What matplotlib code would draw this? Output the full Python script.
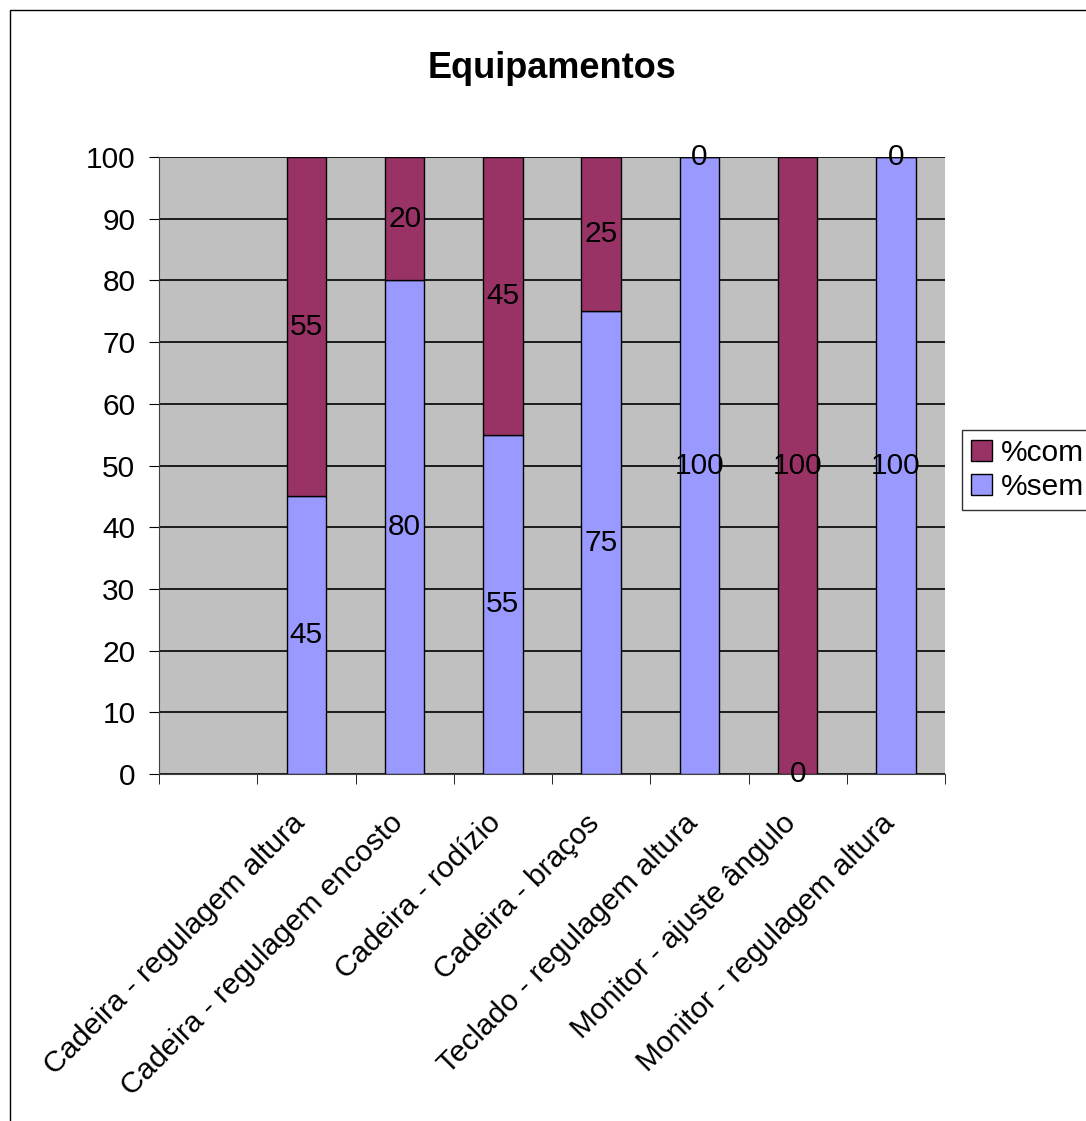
import matplotlib.pyplot as plt
import matplotlib.patches as mpatches
import matplotlib.transforms as mtransforms
import numpy as np

plt.rcParams['font.family'] = ['Liberation Sans', 'DejaVu Sans']

# dados
categorias = ["", "Cadeira - regulagem altura", "Cadeira - regulagem encosto",
              "Cadeira - rodízio", "Cadeira - braços", "Teclado - regulagem altura",
              "Monitor - ajuste ângulo", "Monitor - regulagem altura"]
pct_sem = [np.nan, 45, 80, 55, 75, 100, 0, 100]
pct_com = [np.nan, 55, 20, 45, 25, 0, 100, 0]

cor_sem = "#9999FF"
cor_com = "#993366"
fs = 21.5

fig = plt.figure(figsize=(10.86, 11.21), dpi=100)
ax = fig.add_axes([0.1464, 0.3095, 0.7238, 0.5504])
ax.set_facecolor("#C0C0C0")

x = np.arange(len(categorias))
sem = np.array(pct_sem, dtype=float)
com = np.array(pct_com, dtype=float)
ax.bar(x, sem, width=0.4, color=cor_sem, edgecolor="black", linewidth=1, zorder=3, label="%sem")
ax.bar(x, com, width=0.4, bottom=sem, color=cor_com, edgecolor="black", linewidth=1, zorder=3, label="%com")

# rótulos dos valores
for i in range(len(categorias)):
    if np.isnan(sem[i]):
        continue
    ax.text(x[i], sem[i] / 2, "%d" % sem[i], ha="center", va="center", fontsize=fs, zorder=4)
    ax.text(x[i], sem[i] + com[i] / 2, "%d" % com[i], ha="center", va="center", fontsize=fs, zorder=4)

ax.set_xlim(-0.5, len(categorias) - 0.5)
ax.set_ylim(0, 100)
ax.set_yticks(np.arange(0, 101, 10))
ax.yaxis.grid(True, color="black", linewidth=1.2, zorder=1)
ax.set_axisbelow(True)
ax.tick_params(axis="y", labelsize=fs, length=7, direction="out", pad=10)

ax.set_xticks(x)
ax.set_xticklabels(categorias, rotation=45, ha="right", va="top", rotation_mode="anchor", fontsize=fs)
ax.tick_params(axis="x", which="major", length=0, pad=25)
ax.set_xticks(np.arange(-0.5, len(categorias), 1), minor=True)
ax.tick_params(axis="x", which="minor", length=7, direction="out")
desloc = mtransforms.ScaledTranslation(-0.16, 0, fig.dpi_scale_trans)
for lbl in ax.get_xticklabels():
    lbl.set_transform(lbl.get_transform() + desloc)

for s in ["top", "right"]:
    ax.spines[s].set_visible(False)
ax.spines["left"].set_color("#404040")
ax.spines["bottom"].set_color("#404040")

fig.text(0.5 * (0.1464 + 0.8702), 1 - 68 / 1121, "Equipamentos", ha="center", va="center",
         fontsize=26, fontweight="bold")

h = [mpatches.Patch(facecolor=cor_com, edgecolor="black"),
     mpatches.Patch(facecolor=cor_sem, edgecolor="black")]
leg = fig.legend(h, ["%com", "%sem"], loc="center left", bbox_to_anchor=(962 / 1086, 1 - 470 / 1121),
                 fontsize=fs, frameon=True, fancybox=False, handlelength=0.7, handleheight=0.7,
                 handletextpad=0.3, borderpad=0.3, labelspacing=0.2, borderaxespad=0)
leg.get_frame().set_edgecolor("black")
leg.get_frame().set_linewidth(1)

# moldura da figura
fig.patches.append(mpatches.Rectangle((10 / 1086, -0.1), 1.2, 1 - 10 / 1121 + 0.1,
                                      transform=fig.transFigure, fill=False,
                                      edgecolor="black", linewidth=1))

plt.savefig("out.png", dpi=100)
